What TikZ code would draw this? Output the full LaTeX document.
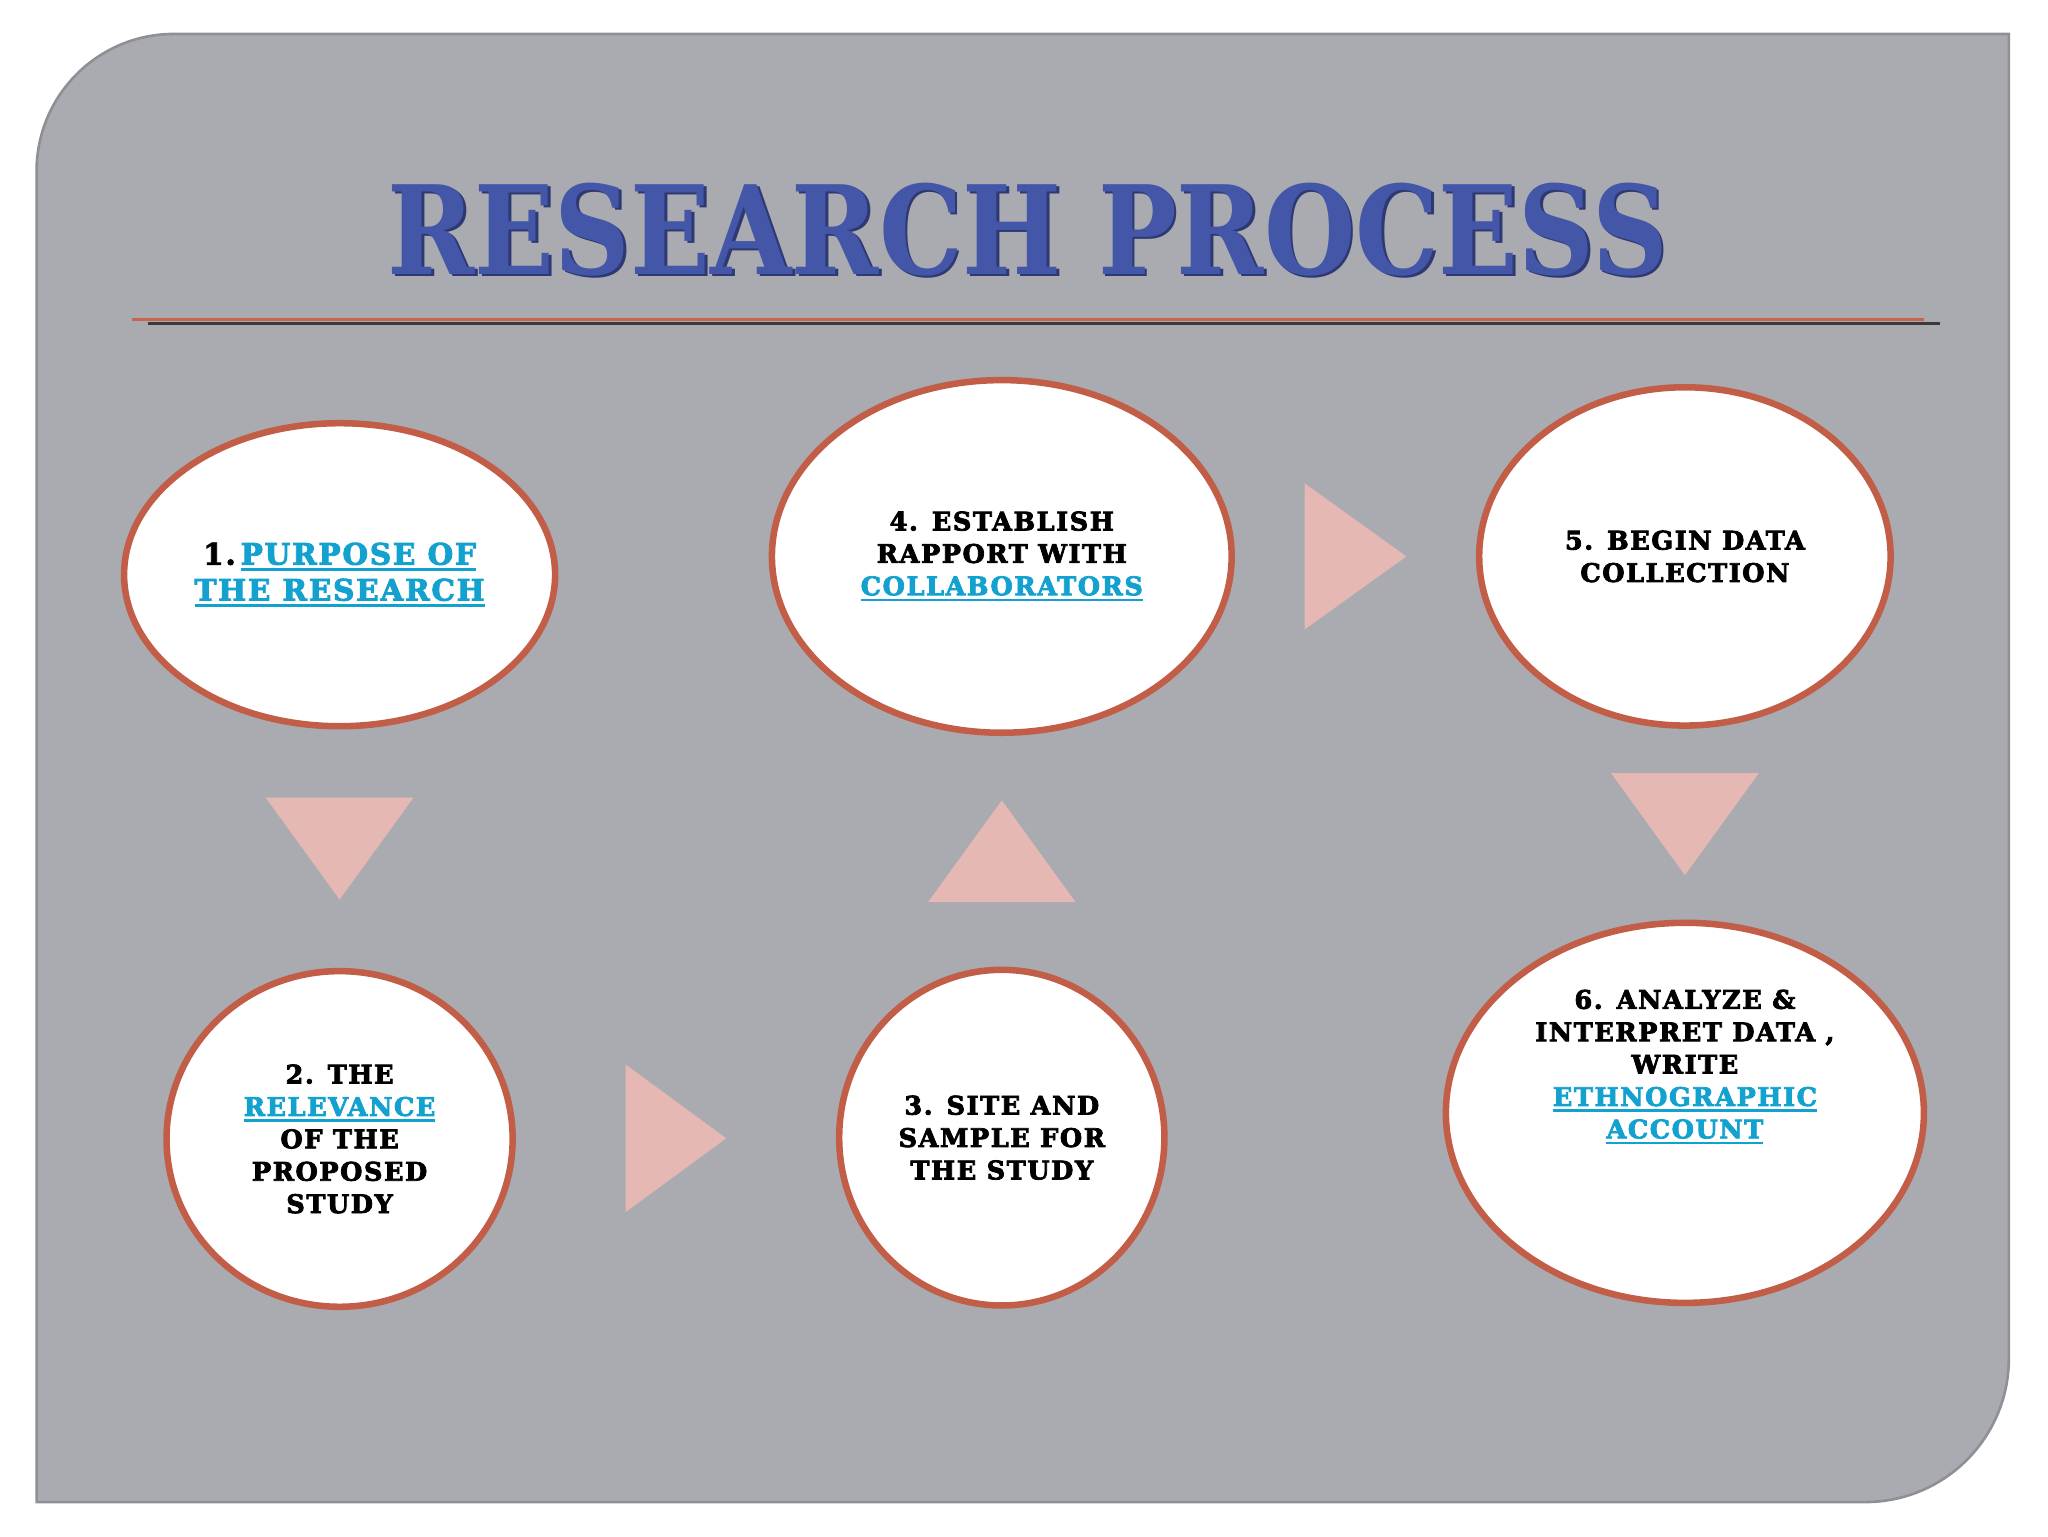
\documentclass[tikz,border=0pt]{standalone}
\usepackage{fontspec}
\usepackage{graphicx}
\usetikzlibrary{shapes.geometric,calc}
\newfontfamily\slabfont{DejaVu Serif}[LetterSpace=6, FakeBold=3]
\newfontfamily\titlefont{DejaVu Serif}
\definecolor{panelc}{HTML}{A9ABB0}
\definecolor{paneledge}{HTML}{8E9095}
\definecolor{ringc}{HTML}{C25E47}
\definecolor{triC}{HTML}{E6B8B4}
\definecolor{linkc}{HTML}{13A1CF}
\definecolor{titlec}{HTML}{4356A8}
\definecolor{titlesh}{HTML}{2E3872}
\definecolor{rulered}{HTML}{C8654E}
\definecolor{ruledark}{HTML}{3A3A3A}
\newcommand\mylink[1]{\setbox0=\hbox{\textcolor{linkc}{#1}}\rlap{\textcolor{linkc}{\rule[-4.7pt]{\wd0}{2pt}}}\box0}
\tikzset{
  stage/.style={ellipse, draw=ringc, line width=5pt, fill=white, inner sep=0pt,
    align=center, text=black, font=\slabfont\bfseries\fontsize{19.6}{24.8}\selectfont},
  stagetext/.style={align=center, inner sep=0pt, text=black,
    font=\slabfont\bfseries\fontsize{19.6}{24.8}\selectfont},
  tri/.style={fill=triC},
  titletext/.style={inner sep=0pt, anchor=base}
}
\begin{document}
\begin{tikzpicture}[x=1pt, y=-1pt]
\useasboundingbox (0,0) rectangle (1568,1176);
% panel
\filldraw[fill=panelc, draw=paneledge, line width=2]
  (28,1150) -- (28,131) arc[start angle=180, end angle=270, radius=105]
  -- (1538,26) -- (1538,1040) arc[start angle=0, end angle=90, radius=110] -- cycle;
% title
\node[titletext, text=titlesh] (titleshadow) at (789,212)
  {\resizebox{980pt}{70pt}{\titlefont\bfseries RESEARCH PROCESS}};
\node[titletext, text=titlec] (title) at (787,210)
  {\resizebox{980pt}{70pt}{\titlefont\bfseries RESEARCH PROCESS}};
% rules
\coordinate (rA) at (101,244.5);
\coordinate (rB) at (1473,244.5);
\coordinate (rC) at (113,247.5);
\coordinate (rD) at (1485,247.5);
\draw[ruledark, line width=2] (rC) -- (rD);
\draw[rulered, line width=2] (rA) -- (rB);
% stages
\node[stage, minimum width=330, minimum height=232,
  font=\slabfont\bfseries\fontsize{22.6}{27.5}\selectfont] (e1) at (260,440)
  {1.\,\mylink{PURPOSE OF}\\\mylink{THE RESEARCH}};
\node[stage, minimum width=265, minimum height=257] (e2) at (260,872)
  {2. THE\\\mylink{RELEVANCE}\\OF THE\\PROPOSED\\STUDY};
\node[stage, minimum width=249, minimum height=257] (e3) at (767,871)
  {3. SITE AND\\SAMPLE FOR\\THE STUDY};
\node[stage, minimum width=352, minimum height=270] (e4) at (767,426)
  {4. ESTABLISH\\RAPPORT WITH\\\mylink{COLLABORATORS}};
\node[stage, minimum width=315, minimum height=259] (e5) at (1290,426)
  {5. BEGIN DATA\\COLLECTION};
\node[stage, minimum width=366, minimum height=291] (e6) at (1290,852) {};
\node[stagetext] (t6) at (1290,817)
  {6. ANALYZE \&\\INTERPRET DATA ,\\WRITE\\\mylink{ETHNOGRAPHIC}\\\mylink{ACCOUNT}};
% arrows (triangles)
\fill[tri] ($(e1.south)!0.5!(e2.north)$) ++(-56.5,-39) -- ++(113,0) -- ++(-56.5,78) -- cycle;
\fill[tri] ($(e2.east)!0.5!(e3.west)$) ++(-38.5,-56.5) -- ++(0,113) -- ++(77,-56.5) -- cycle;
\fill[tri] ($(e3.north)!0.5!(e4.south)$) ++(-56.5,39) -- ++(113,0) -- ++(-56.5,-78) -- cycle;
\fill[tri] ($(e4.east)!0.5!(e5.west)$) ++(-39,-56) -- ++(0,112) -- ++(78,-56) -- cycle;
\fill[tri] ($(e5.south)!0.5!(e6.north)$) ++(-56.5,-39) -- ++(113,0) -- ++(-56.5,78) -- cycle;
\end{tikzpicture}
\end{document}
